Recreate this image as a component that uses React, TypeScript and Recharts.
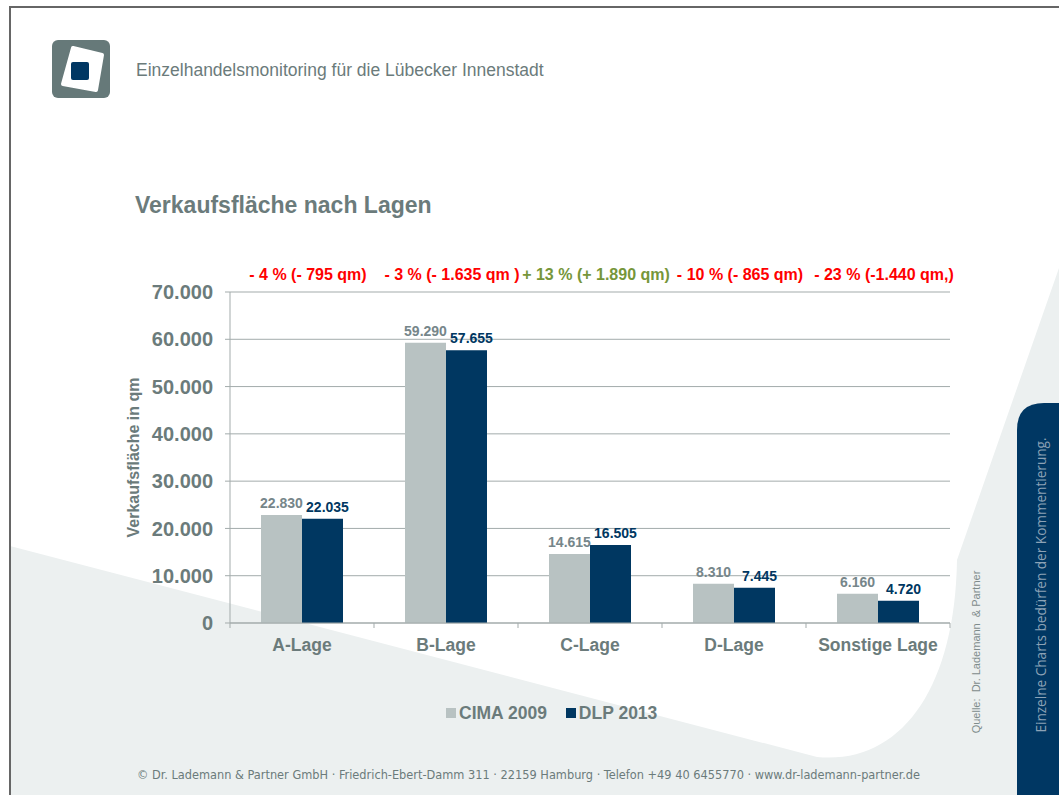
import { Bar, BarChart, CartesianGrid, LabelList, Legend, XAxis, YAxis } from "recharts";

// Werte aus der Folie "Verkaufsfläche nach Lagen"
const CATEGORIES = ["A-Lage", "B-Lage", "C-Lage", "D-Lage", "Sonstige Lage"];
const CIMA_2009 = [22830, 59290, 14615, 8310, 6160];
const DLP_2013 = [22035, 57655, 16505, 7445, 4720];
const CHANGES = [
  "- 4 % (- 795 qm)",
  "- 3 % (- 1.635 qm )",
  "+ 13 % (+ 1.890 qm)",
  "- 10 % (- 865 qm)",
  "- 23 % (-1.440 qm,)",
];
const Y_TICKS = [0, 10000, 20000, 30000, 40000, 50000, 60000, 70000];

const rows = CATEGORIES.map((name, i) => ({
  name,
  cima: CIMA_2009[i],
  dlp: DLP_2013[i],
}));

const W = 1059;
const H = 795;
const PLOT = { left: 230, right: 950, top: 292, bottom: 623 };
const HALF_BAND = (PLOT.right - PLOT.left) / CATEGORIES.length / 2;

const FONT = '"Liberation Sans", Arial, sans-serif';
const GREY_TEXT = "#6b7b7b";
const AXIS_GREY = "#a3abab";
const CIMA_COLOR = "#b8c2c2";
const DLP_COLOR = "#003761";

function de(value: number): string {
  return String(value).replace(/\B(?=(\d{3})+(?!\d))/g, ".");
}

// Excel setzt die Striche zwischen die Kategorien, nicht in die Mitte.
function CategoryTick(props: any) {
  const { x, y, payload, index } = props;
  const axisY = y - 5;
  return (
    <g>
      <line x1={x - HALF_BAND} x2={x - HALF_BAND} y1={axisY} y2={axisY + 5} stroke={AXIS_GREY} />
      {index === CATEGORIES.length - 1 && (
        <line x1={x + HALF_BAND} x2={x + HALF_BAND} y1={axisY} y2={axisY + 5} stroke={AXIS_GREY} />
      )}
      <text
        x={x}
        y={y + 23}
        textAnchor="middle"
        fill={GREY_TEXT}
        fontFamily={FONT}
        fontSize={17.5}
        fontWeight={700}
      >
        {payload.value}
      </text>
    </g>
  );
}

function ChangeTick(props: any) {
  const { x, y, index } = props;
  const text = CHANGES[index] ?? "";
  return (
    <text
      x={x + 6}
      y={y - 8}
      textAnchor="middle"
      fill={text.startsWith("+") ? "#76963a" : "#ff0000"}
      fontFamily={FONT}
      fontSize={16}
      fontWeight={700}
    >
      {text}
    </text>
  );
}

function valueLabel(color: string, dx: number) {
  return (props: any) => {
    const { x, y, width, value } = props;
    return (
      <text
        x={Number(x) + Number(width) / 2 + dx}
        y={Number(y) - 7}
        textAnchor="middle"
        fill={color}
        fontFamily={FONT}
        fontSize={14}
        fontWeight={700}
      >
        {de(Number(value))}
      </text>
    );
  };
}

function LegendContent({ payload }: any) {
  return (
    <div
      style={{
        display: "flex",
        gap: 19,
        fontFamily: FONT,
        fontSize: 17.5,
        fontWeight: 700,
        lineHeight: "20px",
        color: GREY_TEXT,
        whiteSpace: "nowrap",
      }}
    >
      {(payload ?? []).map((entry: any) => (
        <span key={entry.value} style={{ display: "flex", alignItems: "center" }}>
          <span
            style={{ width: 10, height: 10, background: entry.color, marginRight: 3 }}
          />
          {entry.value}
        </span>
      ))}
    </div>
  );
}

function Backdrop() {
  return (
    <svg width={W} height={H} style={{ position: "absolute", left: 0, top: 0 }}>
      <rect width={W} height={H} fill="#ffffff" />
      <path
        d="M10,546 L817,757 C900,765 955,690 957,560 L1059,268 L1059,795 L10,795 Z"
        fill="#ecf0f0"
      />
      <path d="M1017,795 L1017,430 Q1017,403 1044,403 L1059,403 L1059,795 Z" fill="#003763" />
      <line x1={10} y1={7} x2={W} y2={7} stroke="#666" strokeWidth={2} />
      <line x1={10} y1={6} x2={10} y2={H} stroke="#666" strokeWidth={2} />

      {/* Logo */}
      <rect x={52} y={40} width={58} height={58} rx={6} fill="#667979" />
      <polygon
        points="73,48 102,55 96,90 63,84"
        fill="#ffffff"
        stroke="#ffffff"
        strokeWidth={4}
        strokeLinejoin="round"
      />
      <rect x={71} y={62} width={18} height={18} rx={2} fill="#003763" />

      <text x={136} y={76} fill={GREY_TEXT} fontFamily={FONT} fontSize={17.5}>
        Einzelhandelsmonitoring für die Lübecker Innenstadt
      </text>
      <text x={135} y={213} fill={GREY_TEXT} fontFamily={FONT} fontSize={23} fontWeight={700}>
        Verkaufsfläche nach Lagen
      </text>

      <text
        x={137}
        y={779}
        fill={GREY_TEXT}
        fontFamily='"DejaVu Sans Condensed", "DejaVu Sans", sans-serif'
        fontSize={13}
        textLength={783}
        lengthAdjust="spacingAndGlyphs"
      >
        © Dr. Lademann &amp; Partner GmbH · Friedrich-Ebert-Damm 311 · 22159 Hamburg · Telefon +49 40
        6455770 · www.dr-lademann-partner.de
      </text>

      <text
        x={980}
        y={652}
        transform="rotate(-90, 980, 652)"
        textAnchor="middle"
        fill="#7f8c8c"
        fontFamily={FONT}
        fontSize={11}
        style={{ whiteSpace: "pre" }}
      >
        Quelle:  Dr. Lademann  &amp; Partner
      </text>
      <text
        x={1046}
        y={585}
        transform="rotate(-90, 1046, 585)"
        textAnchor="middle"
        fill="#8ca2b6"
        fontFamily='"Open Sans", sans-serif'
        fontSize={13.6}
      >
        Einzelne Charts bedürfen der Kommentierung.
      </text>
    </svg>
  );
}

export default function App() {
  return (
    <div style={{ position: "absolute", left: 0, top: 0, width: W, height: H }}>
      <Backdrop />
      <div style={{ position: "absolute", left: 0, top: 0 }}>
        <BarChart
          width={W}
          height={H}
          data={rows}
          margin={{
            top: PLOT.top - 30,
            right: W - PLOT.right,
            bottom: H - PLOT.bottom - 30,
            left: PLOT.left - 100,
          }}
          barCategoryGap={31}
          barGap={0}
        >
          <CartesianGrid vertical={false} stroke={AXIS_GREY} />
          <XAxis
            xAxisId="top"
            orientation="top"
            dataKey="name"
            height={30}
            interval={0}
            axisLine={false}
            tickLine={false}
            tickSize={4}
            tickMargin={0}
            tick={(props: any) => <ChangeTick {...props} />}
          />
          <XAxis
            dataKey="name"
            height={30}
            interval={0}
            axisLine={{ stroke: AXIS_GREY }}
            tickLine={false}
            tickSize={5}
            tickMargin={0}
            tick={(props: any) => <CategoryTick {...props} />}
          />
          <YAxis
            width={100}
            domain={[0, 70000]}
            ticks={Y_TICKS}
            interval={0}
            tickFormatter={de}
            tick={{ fill: GREY_TEXT, fontSize: 20, fontWeight: 700, fontFamily: FONT }}
            axisLine={{ stroke: AXIS_GREY }}
            tickLine={{ stroke: AXIS_GREY }}
            tickSize={5}
            tickMargin={12}
            label={{
              value: "Verkaufsfläche in qm",
              angle: -90,
              position: "insideLeft",
              offset: 3,
              fill: GREY_TEXT,
              style: { textAnchor: "middle", fontFamily: FONT, fontSize: 16, fontWeight: 700 },
            }}
          />
          <Legend
            layout="horizontal"
            verticalAlign="middle"
            align="center"
            wrapperStyle={{ top: 703, left: 446, width: "auto", height: "auto" }}
            content={<LegendContent />}
          />
          <Bar dataKey="cima" name="CIMA 2009" fill={CIMA_COLOR} isAnimationActive={false}>
            <LabelList dataKey="cima" content={valueLabel("#76868a", 0)} />
          </Bar>
          <Bar dataKey="dlp" name="DLP 2013" fill={DLP_COLOR} isAnimationActive={false}>
            <LabelList dataKey="dlp" content={valueLabel(DLP_COLOR, 5)} />
          </Bar>
        </BarChart>
      </div>
    </div>
  );
}
